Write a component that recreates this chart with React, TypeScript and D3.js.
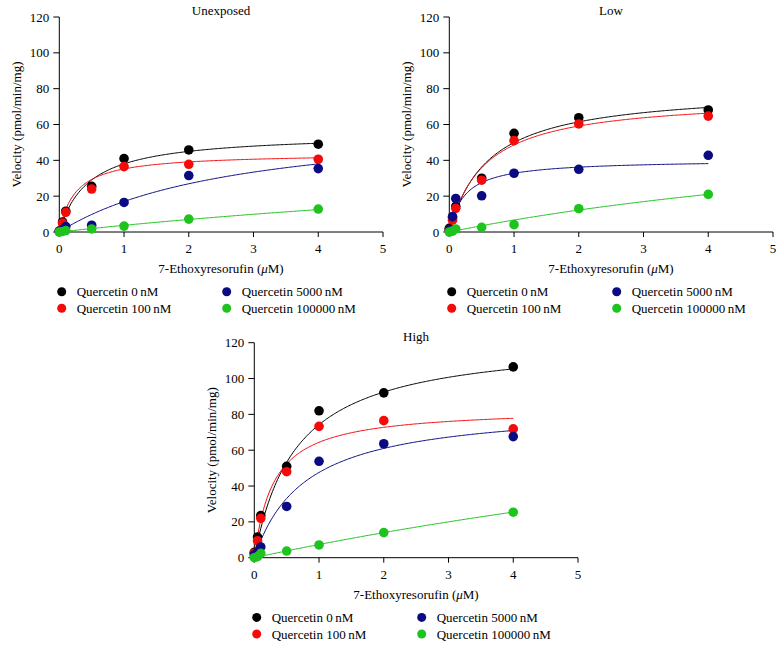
import React from "react";
import * as d3 from "d3";

// ---- data ----
const SUBSTRATE = [0, 0.05, 0.1, 0.5, 1, 2, 4];
const SERIES = ["Quercetin 0\u2009nM", "Quercetin 100\u2009nM", "Quercetin 5000\u2009nM", "Quercetin 100000\u2009nM"];
const COLORS = ["#000000", "#f50a0a", "#0a0a82", "#1ec31e"];
const PANEL_TITLES = ["Unexposed", "Low", "High"];
const X_TICKS = [0, 1, 2, 3, 4, 5];
const Y_TICKS = [0, 20, 40, 60, 80, 100, 120];

const UNEXPOSED_0 = [0.5, 5.6, 11.6, 25.5, 41, 45.8, 49];
const UNEXPOSED_100 = [0.5, 5, 11, 24, 36.5, 37.8, 40.6];
const UNEXPOSED_5000 = [0.3, 1.5, 3, 3.8, 16.5, 31.5, 35.4];
const UNEXPOSED_100000 = [0, 0.3, 0.8, 1.7, 3.3, 7.2, 12.8];

const LOW_0 = [2, 8, 14.3, 30, 55.1, 63.8, 68.1];
const LOW_100 = [1, 6.6, 13.2, 28.9, 51, 60.3, 64.7];
const LOW_5000 = [1, 8.6, 18.7, 20.2, 32.8, 35, 42.8];
const LOW_100000 = [0, 0.5, 1.7, 2.6, 4.1, 13, 21];

const HIGH_0 = [3, 11.5, 23.5, 51, 82, 92, 106.5];
const HIGH_100 = [2.5, 9.5, 22, 48, 73.3, 76.5, 71.9];
const HIGH_5000 = [1.5, 3, 6, 28.6, 53.8, 63.6, 67.6];
const HIGH_100000 = [0, 0.6, 2.4, 3.7, 7.1, 14, 25.4];

// Michaelis-Menten fit parameters
const UNEXPOSED_VMAX = [55.1, 44, 64.6, 58.4];
const UNEXPOSED_KM = [0.449, 0.25, 2.8, 14.7];
const LOW_VMAX = [80, 75.5, 40.4, 73.5];
const LOW_KM = [0.603, 0.553, 0.233, 10];
const HIGH_VMAX = [122.5, 83.6, 84.9, 140];
const HIGH_KM = [0.65, 0.298, 0.784, 18];

const PANELS = [
  { title: PANEL_TITLES[0], series: [UNEXPOSED_0, UNEXPOSED_100, UNEXPOSED_5000, UNEXPOSED_100000], vmax: UNEXPOSED_VMAX, km: UNEXPOSED_KM, ox: 0, oy: 0 },
  { title: PANEL_TITLES[1], series: [LOW_0, LOW_100, LOW_5000, LOW_100000], vmax: LOW_VMAX, km: LOW_KM, ox: 390, oy: 0 },
  { title: PANEL_TITLES[2], series: [HIGH_0, HIGH_100, HIGH_5000, HIGH_100000], vmax: HIGH_VMAX, km: HIGH_KM, ox: 195, oy: 325.7 },
];

const FONT = "'Liberation Serif', 'DejaVu Serif', serif";
const FS = 13;

function Panel({ p }: { p: any }) {
  const x = d3.scaleLinear().domain([0, 5]).range([59.3, 383]);
  const y = d3.scaleLinear().domain([0, 120]).range([232, 17]);
  const samples = d3.range(0, 4.0001, 0.02);
  return (
    <g transform={`translate(${p.ox},${p.oy})`} fontFamily={FONT}>
      <text x={221} y={15} textAnchor="middle" fontSize={FS}>{p.title}</text>
      {/* y axis */}
      <line x1={x(0)} x2={x(0)} y1={y(0)} y2={y(120)} stroke="#000" strokeWidth={1} />
      {Y_TICKS.map((t) => (
        <g key={t}>
          <line x1={x(0) - 6} x2={x(0)} y1={y(t)} y2={y(t)} stroke="#000" strokeWidth={1} />
          <text x={x(0) - 10} y={y(t)} dy="0.35em" textAnchor="end" fontSize={FS}>{t}</text>
        </g>
      ))}
      {/* x axis */}
      <line x1={x(0)} x2={x(5)} y1={y(0)} y2={y(0)} stroke="#000" strokeWidth={1} />
      {X_TICKS.map((t) => (
        <g key={t}>
          <line x1={x(t)} x2={x(t)} y1={y(0)} y2={y(0) + 5} stroke="#000" strokeWidth={1} />
          <text x={x(t)} y={253} textAnchor="middle" fontSize={FS}>{t}</text>
        </g>
      ))}
      <text x={221} y={273} textAnchor="middle" fontSize={FS}>
        7-Ethoxyresorufin (<tspan fontStyle="italic">μ</tspan>M)
      </text>
      <text transform={`translate(21,${(y(0) + y(120)) / 2}) rotate(-90)`} textAnchor="middle" fontSize={FS}>
        Velocity (pmol/min/mg)
      </text>
      {/* fitted curves */}
      {p.series.map((_: number[], si: number) => {
        const gen = d3
          .line<number>()
          .x((s) => x(s))
          .y((s) => y((p.vmax[si] * s) / (p.km[si] + s)));
        return <path key={"c" + si} d={gen(samples) || ""} fill="none" stroke={COLORS[si]} strokeWidth={1} />;
      })}
      {/* points */}
      {p.series.map((vals: number[], si: number) => (
        <g key={"p" + si} fill={COLORS[si]}>
          {vals.map((v, i) => (
            <circle key={i} cx={x(SUBSTRATE[i])} cy={y(v)} r={4.8} />
          ))}
        </g>
      ))}
      {/* legend */}
      {SERIES.map((name, si) => {
        const col = si < 2 ? 0 : 1;
        const row = si % 2;
        const mx = col === 0 ? 61.7 : 226.7;
        const ty = row === 0 ? 291.7 : 308.3;
        return (
          <g key={"l" + si}>
            <circle cx={mx} cy={ty} r={4.5} fill={COLORS[si]} />
            <text x={mx + 15} y={ty} dy="0.35em" fontSize={FS}>{name}</text>
          </g>
        );
      })}
    </g>
  );
}

export default function App() {
  return (
    <svg
      width={784}
      height={649}
      style={{ position: "absolute", left: 0, top: 0, background: "#fff" }}
    >
      <rect width={784} height={649} fill="#fff" />
      {PANELS.map((p, i) => (
        <Panel key={i} p={p} />
      ))}
    </svg>
  );
}
